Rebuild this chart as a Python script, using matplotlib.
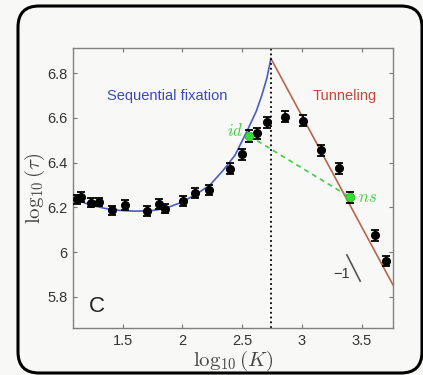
import numpy as np
import matplotlib.pyplot as plt
from matplotlib.patches import FancyBboxPatch

plt.rcParams['font.family'] = ['Liberation Sans', 'DejaVu Sans']
plt.rcParams['mathtext.fontset'] = 'cm'

# measured points
logK = [1.122, 1.153, 1.237, 1.304, 1.410, 1.523, 1.702, 1.803, 1.853, 2.003,
        2.106, 2.226, 2.399, 2.502, 2.560, 2.625, 2.708, 2.859, 3.007, 3.157,
        3.310, 3.402, 3.611, 3.703]
logtau = [6.236, 6.248, 6.221, 6.224, 6.187, 6.211, 6.185, 6.215, 6.194, 6.227,
          6.263, 6.278, 6.373, 6.438, 6.519, 6.532, 6.581, 6.606, 6.588, 6.455,
          6.375, 6.245, 6.075, 5.960]
err = [0.020, 0.022, 0.020, 0.020, 0.020, 0.022, 0.022, 0.022, 0.020, 0.022,
       0.022, 0.024, 0.024, 0.024, 0.025, 0.025, 0.025, 0.025, 0.025, 0.025,
       0.025, 0.025, 0.024, 0.022]

# theory curves
seq_x = [1.09, 1.228, 1.354, 1.479, 1.605, 1.730, 1.855, 1.981, 2.106, 2.231,
         2.343, 2.441, 2.538, 2.616, 2.662, 2.706, 2.739]
seq_y = [6.238, 6.211, 6.195, 6.186, 6.183, 6.184, 6.195, 6.220, 6.255, 6.300,
         6.367, 6.434, 6.539, 6.628, 6.698, 6.778, 6.864]
tun_x = [2.739, 3.76]
tun_y = [6.867, 5.853]
green_x = [2.560, 3.402]
green_y = [6.519, 6.245]
K_cross = 2.739

bg = '#f8f8f6'
fig = plt.figure(figsize=(4.23, 3.75), dpi=100, facecolor=bg)

# slide frame
frame = FancyBboxPatch((18 / 423, 2 / 375), 404 / 423, 367 / 375,
                       boxstyle='round,pad=0,rounding_size=0.05',
                       transform=fig.transFigure, fill=False,
                       edgecolor='black', linewidth=2.2, mutation_aspect=423 / 375)
fig.patches.append(frame)

ax = fig.add_axes([0.1726, 0.1253, 0.7564, 0.7467], facecolor=bg)

ax.plot(seq_x, seq_y, color='#4a5cc8', lw=1.2)
ax.plot(tun_x, tun_y, color='#b8644e', lw=1.2)
ax.axvline(K_cross, color='black', ls=':', lw=1.3)
ax.plot(green_x, green_y, color='#44cc44', ls='--', lw=1.2, dashes=(3, 2.5))

ax.errorbar(logK, logtau, yerr=err, fmt='o', color='black', ms=5.5,
            capsize=3.2, elinewidth=1.2, capthick=1.3, zorder=4)
ax.plot(green_x, green_y, 'o', color='#33dd33', ms=5.5, zorder=5)

ax.text(1.87, 6.70, 'Sequential fixation', color='#3a48c0', fontsize=10.5,
        ha='center', va='center')
ax.text(3.36, 6.70, 'Tunneling', color='#c04a3a', fontsize=10.5,
        ha='center', va='center')
ax.text(2.44, 6.546, r'$id$', color='#44cc44', fontsize=12, ha='center', va='center')
ax.text(3.545, 6.243, r'$ns$', color='#44cc44', fontsize=12, ha='center', va='center')
ax.plot([3.486, 3.375], [5.870, 5.987], color='#555555', lw=1.2)
ax.text(3.33, 5.90, '\u22121', color='#333333', fontsize=10.5, ha='center', va='center')
ax.text(1.284, 5.756, 'C', color='#222222', fontsize=16, ha='center', va='center')

ax.set_xlim(1.086, 3.76)
ax.set_ylim(5.66, 6.913)
ax.set_xticks([1.5, 2, 2.5, 3, 3.5])
ax.set_xticklabels(['1.5', '2', '2.5', '3', '3.5'])
ax.set_yticks([5.8, 6, 6.2, 6.4, 6.6, 6.8])
ax.set_yticklabels(['5.8', '6', '6.2', '6.4', '6.6', '6.8'])
ax.tick_params(direction='in', length=3, width=0.8, color='#777777',
               top=True, right=True, labelsize=10.5, labelcolor='#333333', pad=4)
for s in ax.spines.values():
    s.set_color('#808080')
    s.set_linewidth(1.0)

ax.set_xlabel(r'$\log_{10}(K)$', fontsize=15, color='#444444', labelpad=1)
ax.set_ylabel(r'$\log_{10}(\tau)$', fontsize=15, color='#444444', labelpad=0)

fig.savefig('out.png', dpi=100, facecolor=bg)
